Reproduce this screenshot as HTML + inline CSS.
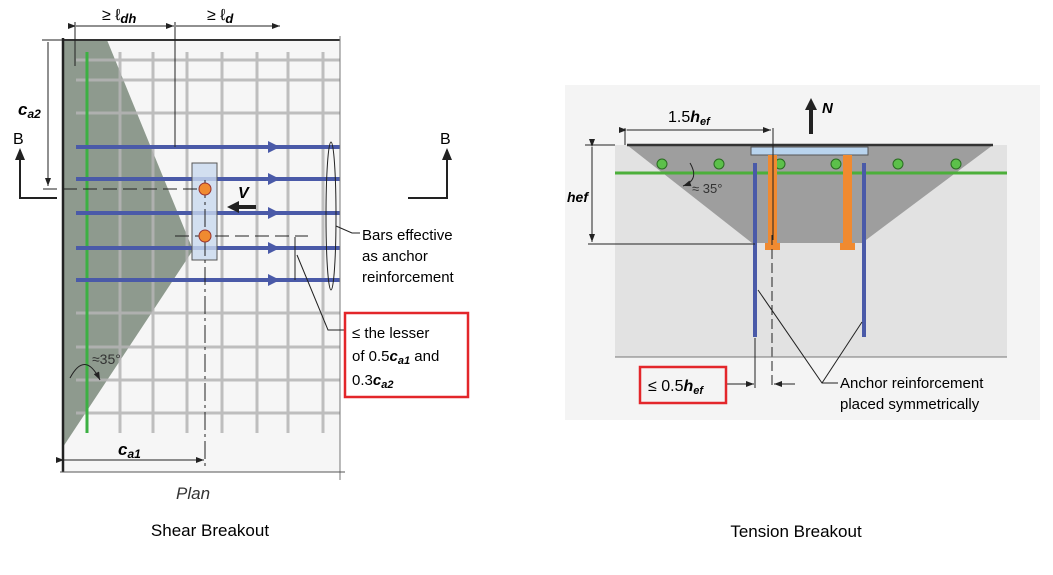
<!DOCTYPE html>
<html><head><meta charset="utf-8"><style>
html,body{margin:0;padding:0;background:#fff}
svg{display:block;font-family:"Liberation Sans",sans-serif}
</style></head><body>
<svg width="1053" height="575" viewBox="0 0 1053 575">
<defs>
<marker id="ah" markerUnits="userSpaceOnUse" markerWidth="8" markerHeight="6" refX="8" refY="3" orient="auto"><path d="M0,0L8,3L0,6z" fill="#222"/></marker>
</defs>
<!-- LEFT: Shear -->
<g>
<rect x="63" y="40" width="277" height="432" fill="#f6f6f6"/>
<polygon points="63,40 107,40 193,250 63,447" fill="#8e9a8e"/>
<g stroke="#b5b5b5" stroke-width="3" opacity="0.85">
<line x1="76" y1="60" x2="340" y2="60"/><line x1="76" y1="80" x2="340" y2="80"/><line x1="76" y1="113" x2="340" y2="113"/>
<line x1="76" y1="313" x2="340" y2="313"/><line x1="76" y1="347" x2="340" y2="347"/><line x1="76" y1="380" x2="340" y2="380"/><line x1="76" y1="413" x2="340" y2="413"/>
<line x1="120" y1="52" x2="120" y2="433"/><line x1="153" y1="52" x2="153" y2="433"/><line x1="187" y1="52" x2="187" y2="433"/><line x1="222" y1="52" x2="222" y2="433"/><line x1="257" y1="52" x2="257" y2="433"/><line x1="288" y1="52" x2="288" y2="433"/><line x1="323" y1="52" x2="323" y2="433"/>
</g>
<line x1="87" y1="52" x2="87" y2="433" stroke="#3cb043" stroke-width="3"/>
<g stroke="#4a5aa8" stroke-width="4">
<line x1="76" y1="147" x2="340" y2="147"/><line x1="76" y1="179" x2="340" y2="179"/><line x1="76" y1="213" x2="340" y2="213"/><line x1="76" y1="248" x2="340" y2="248"/><line x1="76" y1="280" x2="340" y2="280"/>
</g>
<g fill="#4a5aa8"><path d="M268,141L280,147L268,153z"/><path d="M268,173L280,179L268,185z"/><path d="M268,207L280,213L268,219z"/><path d="M268,242L280,248L268,254z"/><path d="M268,274L280,280L268,286z"/></g>
<rect x="192" y="163" width="25" height="97" fill="#c9d9ef" fill-opacity="0.8" stroke="#555"/>
<line x1="63" y1="40" x2="340" y2="40" stroke="#333" stroke-width="2"/>
<line x1="63" y1="38" x2="63" y2="472" stroke="#222" stroke-width="2.5"/>
<line x1="340" y1="36" x2="340" y2="480" stroke="#777"/>
<line x1="60" y1="472" x2="345" y2="472" stroke="#555"/>
<line x1="43" y1="189" x2="205" y2="189" stroke="#222" stroke-dasharray="14,6"/>
<line x1="175" y1="236" x2="308" y2="236" stroke="#222" stroke-dasharray="14,6"/>
<line x1="205" y1="180" x2="205" y2="468" stroke="#222" stroke-dasharray="18,4,3,4"/>
<g><circle cx="205" cy="189" r="6" fill="#f08a30" stroke="#933"/><circle cx="205" cy="236" r="6" fill="#f08a30" stroke="#933"/></g>
<g><path d="M256,207H238" stroke="#222" stroke-width="4"/><path d="M239,201L227,207L239,213z" fill="#222"/></g>
<text x="238" y="198" font-size="16" font-weight="bold" font-style="italic">V</text>
<line x1="75" y1="22" x2="75" y2="66" stroke="#222"/><line x1="175" y1="22" x2="175" y2="147" stroke="#222"/>
<line x1="76" y1="26" x2="174" y2="26" stroke="#222" marker-end="url(#ah)" marker-start="url(#ah)"/>
<line x1="176" y1="26" x2="280" y2="26" stroke="#222" marker-end="url(#ah)"/>
<text x="102" y="20" font-size="16">≥ ℓ<tspan font-weight="bold" font-style="italic" font-size="13" dy="3">dh</tspan></text>
<text x="207" y="20" font-size="16">≥ ℓ<tspan font-weight="bold" font-style="italic" font-size="13" dy="3">d</tspan></text>
<line x1="42" y1="40" x2="63" y2="40" stroke="#222"/>
<line x1="48" y1="42" x2="48" y2="186" stroke="#222" marker-end="url(#ah)"/>
<text x="18" y="115" font-size="17" font-weight="bold" font-style="italic">c<tspan font-size="12" dy="3">a2</tspan></text>
<path d="M20,150V198H57" fill="none" stroke="#222" stroke-width="2"/><path d="M15,160L20,148L25,160z" fill="#222"/>
<text x="13" y="144" font-size="16">B</text>
<path d="M408,198H447V150" fill="none" stroke="#222" stroke-width="2"/><path d="M442,160L447,148L452,160z" fill="#222"/>
<text x="440" y="144" font-size="16">B</text>
<ellipse cx="331" cy="216" rx="5" ry="74" fill="none" stroke="#222"/>
<path d="M336,226L352,233H360" fill="none" stroke="#222"/>
<text x="362" y="240" font-size="15">Bars effective</text><text x="362" y="261" font-size="15">as anchor</text><text x="362" y="282" font-size="15">reinforcement</text>
<line x1="295" y1="237" x2="295" y2="280" stroke="#222"/>
<path d="M297,255L328,330H344" fill="none" stroke="#222"/>
<rect x="345" y="313" width="123" height="84" fill="none" stroke="#e3262a" stroke-width="2.5"/>
<text x="352" y="338" font-size="15">≤ the lesser</text>
<text x="352" y="361" font-size="15">of 0.5<tspan font-weight="bold" font-style="italic">c</tspan><tspan font-weight="bold" font-style="italic" font-size="11" dy="3">a1</tspan><tspan dy="-3"> and</tspan></text>
<text x="352" y="385" font-size="15">0.3<tspan font-weight="bold" font-style="italic">c</tspan><tspan font-weight="bold" font-style="italic" font-size="11" dy="3">a2</tspan></text>
<path d="M70,378Q85,350 100,380" fill="none" stroke="#222" marker-end="url(#ah)"/>
<text x="92" y="364" font-size="14" fill="#333">≈35°</text>
<line x1="64" y1="460" x2="204" y2="460" stroke="#222" marker-end="url(#ah)" marker-start="url(#ah)"/>
<text x="118" y="455" font-size="17" font-weight="bold" font-style="italic">c<tspan font-size="12" dy="3">a1</tspan></text>
<text x="176" y="499" font-size="17" font-style="italic" fill="#333">Plan</text>
<text x="210" y="536" font-size="17" text-anchor="middle">Shear Breakout</text>
</g>
<!-- RIGHT: Tension -->
<g>
<rect x="565" y="85" width="475" height="335" fill="#f4f4f4"/>
<rect x="615" y="145" width="392" height="212" fill="#e2e2e2"/>
<polygon points="627,145 993,145 862,243 752,243" fill="#9e9e9e"/>
<line x1="627" y1="145" x2="993" y2="145" stroke="#333" stroke-width="2.5"/>
<line x1="615" y1="173" x2="1007" y2="173" stroke="#4caf3a" stroke-width="3"/>
<g fill="#5cc04a" stroke="#2a6a22"><circle cx="662" cy="164" r="5"/><circle cx="719" cy="164" r="5"/><circle cx="780" cy="164" r="5"/><circle cx="836" cy="164" r="5"/><circle cx="898" cy="164" r="5"/><circle cx="956" cy="164" r="5"/></g>
<rect x="751" y="147" width="117" height="8" fill="#b9d4ee" stroke="#555"/>
<g fill="#f08a30"><rect x="768" y="155" width="9" height="90"/><rect x="765" y="243" width="15" height="7"/><rect x="843" y="155" width="9" height="90"/><rect x="840" y="243" width="15" height="7"/></g>
<g stroke="#4a5aa8" stroke-width="4"><line x1="755" y1="163" x2="755" y2="337"/><line x1="864" y1="163" x2="864" y2="337"/></g>
<line x1="772" y1="235" x2="772" y2="388" stroke="#222" stroke-dasharray="10,4"/>
<line x1="615" y1="357" x2="1007" y2="357" stroke="#777"/>
<line x1="585" y1="145" x2="615" y2="145" stroke="#222"/><line x1="588" y1="244" x2="755" y2="244" stroke="#222"/>
<line x1="592" y1="147" x2="592" y2="242" stroke="#222" marker-end="url(#ah)" marker-start="url(#ah)"/>
<text x="567" y="202" font-size="14" font-weight="bold" font-style="italic">hef</text>
<line x1="625" y1="128" x2="625" y2="145" stroke="#222"/><line x1="773" y1="128" x2="773" y2="240" stroke="#222"/>
<line x1="627" y1="130" x2="771" y2="130" stroke="#222" marker-end="url(#ah)" marker-start="url(#ah)"/>
<text x="668" y="122" font-size="16">1.5<tspan font-weight="bold" font-style="italic">h</tspan><tspan font-weight="bold" font-style="italic" font-size="11" dy="3">ef</tspan></text>
<path d="M811,134V108" stroke="#222" stroke-width="4"/><path d="M805,110L811,98L817,110z" fill="#222"/>
<text x="822" y="113" font-size="15" font-weight="bold" font-style="italic">N</text>
<path d="M690,163Q700,180 683,186" fill="none" stroke="#222" marker-end="url(#ah)"/>
<text x="692" y="193" font-size="13" fill="#333">≈ 35°</text>
<line x1="755" y1="338" x2="755" y2="388" stroke="#222"/>
<line x1="726" y1="384" x2="754" y2="384" stroke="#222" marker-end="url(#ah)"/>
<line x1="795" y1="384" x2="774" y2="384" stroke="#222" marker-end="url(#ah)"/>
<rect x="640" y="367" width="86" height="36" fill="none" stroke="#e3262a" stroke-width="2.5"/>
<text x="648" y="391" font-size="16">≤ 0.5<tspan font-weight="bold" font-style="italic">h</tspan><tspan font-weight="bold" font-style="italic" font-size="11" dy="3">ef</tspan></text>
<path d="M838,383H822L758,290M822,383L862,322" fill="none" stroke="#222"/>
<text x="840" y="388" font-size="15">Anchor reinforcement</text>
<text x="840" y="409" font-size="15">placed symmetrically</text>
<text x="796" y="537" font-size="17" text-anchor="middle">Tension Breakout</text>
</g>
</svg>
</body></html>
